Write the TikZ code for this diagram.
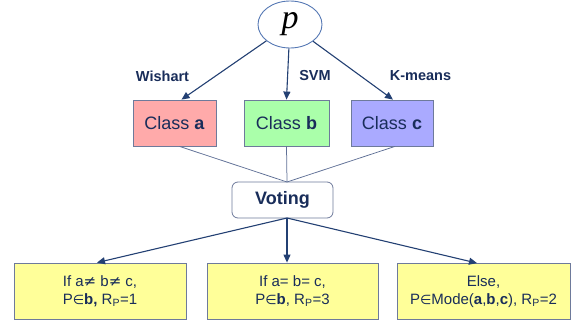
\documentclass[tikz,border=0pt]{standalone}
\usepackage{fontspec}
\setmainfont{Liberation Sans}
\newfontfamily\pfont{Liberation Serif}
\newfontfamily\symfont{DejaVu Sans}
\usetikzlibrary{shapes.geometric,arrows.meta,calc}

\definecolor{navy}{RGB}{25,45,90}
\definecolor{arrowblue}{RGB}{35,64,115}
\definecolor{edgegrey}{RGB}{110,122,155}
\definecolor{thinline}{RGB}{95,112,150}
\definecolor{ellblue}{RGB}{85,120,180}
\definecolor{pinkfill}{RGB}{255,170,170}
\definecolor{greenfill}{RGB}{170,255,170}
\definecolor{violetfill}{RGB}{170,170,255}
\definecolor{yellowfill}{RGB}{255,255,153}

\newcommand{\inS}{{\symfont\fontsize{13}{18}\selectfont\char"2208}}
\newcommand{\neS}{{\symfont\char"2260}}

\tikzset{
  classbox/.style={draw=edgegrey, line width=0.8pt, minimum height=46pt,
    text=navy, font=\fontsize{18}{20}\selectfont, inner sep=0pt},
  votebox/.style={draw=edgegrey, line width=0.8pt, rounded corners=6pt, fill=white,
    minimum width=101pt, minimum height=36pt, text=navy,
    font=\fontsize{18}{20}\selectfont\bfseries, inner sep=0pt},
  rulebox/.style={draw=edgegrey, line width=0.8pt, fill=yellowfill, minimum height=56pt,
    text=navy, align=center, font=\fontsize{15}{18}\selectfont, inner sep=0pt},
  methodlabel/.style={text=navy, font=\fontsize{14.5}{16}\selectfont\bfseries, inner sep=0pt},
  feed/.style={draw=arrowblue, line width=1.1pt, -{Triangle[length=8pt,width=7pt]}},
  voteline/.style={draw=thinline, line width=0.75pt},
}

\begin{document}
\begin{tikzpicture}[x=1pt,y=-1pt]
  \useasboundingbox (0,0) rectangle (574,324);

  % pixel p
  \node[ellipse, draw=ellblue, line width=0.9pt, fill=white,
        minimum width=64pt, minimum height=47pt, inner sep=0pt] (p) at (290,24.5)
        {\pfont\itshape\fontsize{34}{34}\selectfont p};

  % per-classifier results
  \node[classbox, fill=pinkfill, minimum width=83pt] (ca) at (174.5,123) {Class \textbf{a}};
  \node[classbox, fill=greenfill, minimum width=85pt] (cb) at (286.5,123) {Class \textbf{b}};
  \node[classbox, fill=violetfill, minimum width=82pt] (cc) at (392,123) {Class \textbf{c}};

  % classifier names
  \node[methodlabel] (lw) at (162.5,76) {Wishart};
  \node[methodlabel] (ls) at (315,76) {SVM};
  \node[methodlabel] (lk) at (420.5,76) {K-means};

  % voting stage
  \node[votebox] (vote) at (282.5,200) {Voting};
  \coordinate (vin) at (287,182);
  \coordinate (vout) at (287,218);

  % decision rules
  \node[rulebox, minimum width=172pt] (r1) at (100,291)
    {If a\neS{} b\neS{} c,\\P\inS\textbf{b,} R\textsubscript{P}=1};
  \node[rulebox, minimum width=171pt] (r2) at (292.5,291)
    {If a= b= c,\\P\inS\textbf{b}, R\textsubscript{P}=3};
  \node[rulebox, minimum width=173pt] (r3) at (483.5,291.5)
    {Else,\\P\inS Mode(\textbf{a},\textbf{b},\textbf{c}), R\textsubscript{P}=2};

  % classifier arrows
  \draw[feed] (p) -- ([xshift=7pt]ca.north);
  \draw[feed] (p) -- (cb.north);
  \draw[feed] (p) -- ([xshift=1pt]cc.north);

  % votes gathered
  \draw[voteline] ([xshift=5pt]ca.south) -- (vin);
  \draw[voteline] (cb.south) -- (vin);
  \draw[voteline] ([xshift=3pt]cc.south) -- (vin);

  % outcomes
  \draw[feed] (vout) -- ([xshift=-3pt]r1.north);
  \draw[feed] (vout) -- ([xshift=-5.5pt]r2.north);
  \draw[feed] (vout) -- ([xshift=-6.5pt]r3.north);
\end{tikzpicture}
\end{document}
